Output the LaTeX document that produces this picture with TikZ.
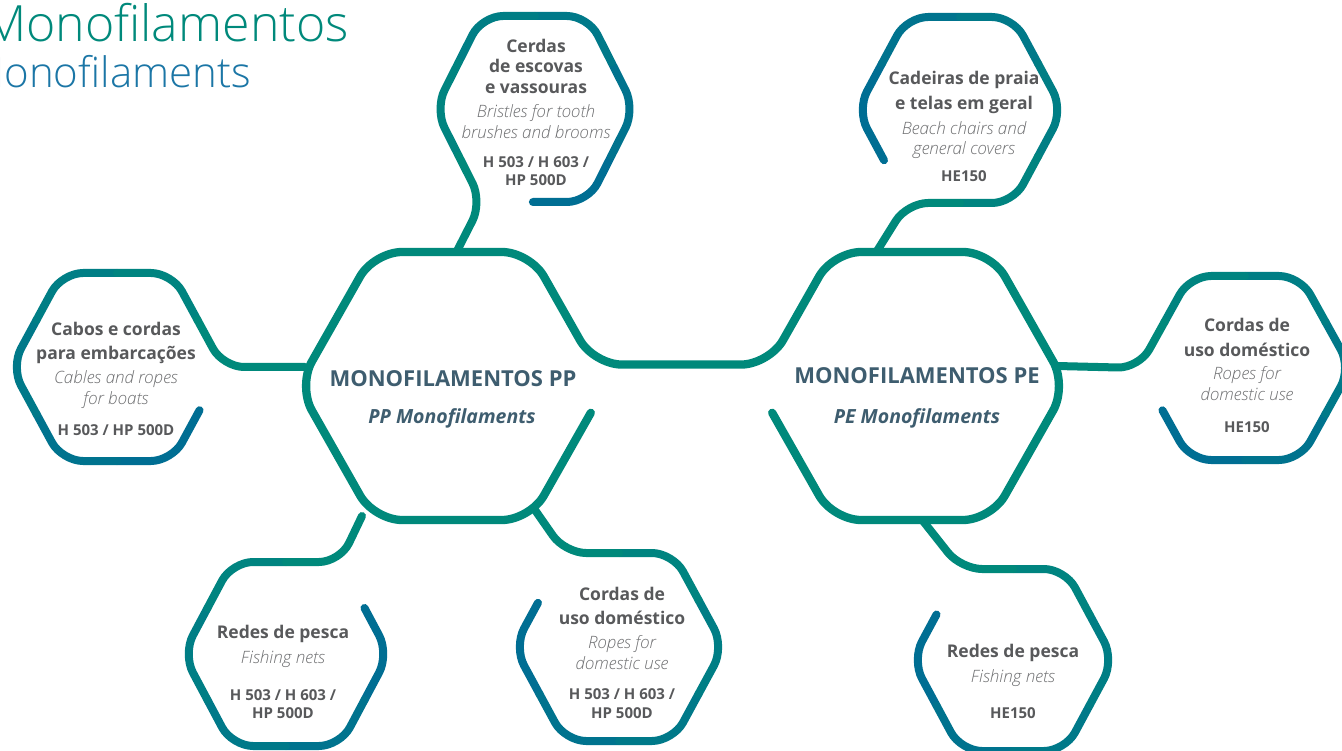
\documentclass[tikz,border=0pt]{standalone}
\usepackage{fontspec}
\setmainfont{Open Sans}
\newfontfamily\lightf{Open Sans Light}[ItalicFont={Open Sans Light Italic}]
\usetikzlibrary{calc}
\definecolor{hteal}{HTML}{00897B}
\definecolor{hblue}{HTML}{006E93}
\definecolor{tgrey}{HTML}{58595B}
\definecolor{tlight}{HTML}{6E6F71}
\definecolor{tdark}{HTML}{3E5D6F}
\definecolor{titleblue}{HTML}{1B76A6}
\newcommand\defhex[6]{%
  \coordinate (#1L) at (#2-#4,#3);
  \coordinate (#1TL) at (#2-#6,#3-#5);
  \coordinate (#1TR) at (#2+#6,#3-#5);
  \coordinate (#1R) at (#2+#4,#3);
  \coordinate (#1BR) at (#2+#6,#3+#5);
  \coordinate (#1BL) at (#2-#6,#3+#5);}
\newcommand\gradhex[1]{%
  \draw[hexline, draw=hblue] (#1p0) -- (#1p1) -- ($(#1p1)!0.5!(#1p2)$);
  \foreach \k/\pc in {2/20,3/40,4/60,5/80}{%
    \pgfmathtruncatemacro\km{\k-1}\pgfmathtruncatemacro\kp{\k+1}%
    \draw[hexline, draw=hteal!\pc!hblue] ($(#1p\km)!0.5!(#1p\k)$) -- (#1p\k) -- ($(#1p\k)!0.5!(#1p\kp)$);}
  \draw[hexline, draw=hteal] ($(#1p5)!0.5!(#1p6)$) -- (#1p6) -- (#1p7);}
\newcommand\seqpts[8]{%
  \coordinate (#1p1) at (#2); \coordinate (#1p2) at (#3); \coordinate (#1p3) at (#4);
  \coordinate (#1p4) at (#5); \coordinate (#1p5) at (#6); \coordinate (#1p6) at (#7);
  \coordinate (#1p7) at (#8);}
\begin{document}
\begin{tikzpicture}[x=1pt,y=-1pt,
  hexline/.style={line width=8pt, line cap=round, line join=round, rounded corners=21pt},
  bigline/.style={line width=8.3pt, draw=hteal, line cap=round, line join=round, rounded corners=28pt},
  bt/.style={anchor=base, inner sep=0pt, text=tgrey, font=\bfseries\fontsize{17.5}{20}\selectfont},
  it/.style={anchor=base, inner sep=0pt, text=tlight, font=\lightf\itshape\fontsize{17}{20}\selectfont},
  md/.style={anchor=base, inner sep=0pt, text=tgrey, font=\bfseries\fontsize{15}{17}\selectfont},
  bigt/.style={anchor=base, inner sep=0pt, text=tdark, font=\bfseries\fontsize{22}{25}\selectfont},
  bigi/.style={anchor=base, inner sep=0pt, text=tdark, font=\bfseries\itshape\fontsize{19.5}{22}\selectfont}]
\clip (0,0) rectangle (1342,751);
\fill[white] (0,0) rectangle (1342,751);

% ---- hexagon geometry
\defhex{pp}{452}{386}{154}{134}{78}
\defhex{pe}{912}{386}{155}{134}{79}
\defhex{ha}{535}{109}{100}{93}{53}
\defhex{hb}{117}{367}{106}{94}{55}
\defhex{hc}{286}{654}{103}{92}{54}
\defhex{hd}{619}{647}{105}{94}{54}
\defhex{he}{960}{110}{103}{93}{53}
\defhex{hf}{1245}{368}{106}{92}{55}
\defhex{hg}{1013}{660}{101}{91}{52}

% ---- big hexagons with their joining connector
\coordinate (ppfree) at ($(ppR)!0.2!(ppBR)$);
\coordinate (ppcorner) at ($(ppTR)!0.84!(ppR)$);
\coordinate (pecorner) at ($(peTL)!0.84!(peL)$);
\coordinate (pefree) at ($(peL)!0.2!(peBL)$);
\draw[bigline] (ppfree) -- (ppBR) -- (ppBL) -- (ppL) -- (ppTL) -- (ppTR) -- (ppcorner)
  -- (pecorner) -- (peTL) -- (peTR) -- (peR) -- (peBR) -- (peBL) -- (pefree);

% ---- small hexagons: free end -> ... -> connector end on a big hexagon
\coordinate (hap0) at ($(haBL)!0.48!(haBR)$);
\seqpts{ha}{haBR}{haR}{haTR}{haTL}{haL}{haBL}{457,251}
\coordinate (hbp0) at ($(hbR)!0.46!(hbBR)$);
\seqpts{hb}{hbBR}{hbBL}{hbL}{hbTL}{hbTR}{hbR}{305,367}
\coordinate (hcp0) at ($(hcTR)!0.5!(hcR)$);
\seqpts{hc}{hcR}{hcBR}{hcBL}{hcL}{hcTL}{hcTR}{362,516}
\coordinate (hdp0) at ($(hdTL)!0.53!(hdL)$);
\seqpts{hd}{hdL}{hdBL}{hdBR}{hdR}{hdTR}{hdTL}{535,510}
\coordinate (hep0) at ($(heL)!0.54!(heBL)$);
\seqpts{he}{heL}{heTL}{heTR}{heR}{heBR}{heBL}{877,251}
\coordinate (hfp0) at ($(hfL)!0.46!(hfBL)$);
\seqpts{hf}{hfBL}{hfBR}{hfR}{hfTR}{hfTL}{hfL}{1057,366}
\coordinate (hgp0) at ($(hgTL)!0.5!(hgL)$);
\seqpts{hg}{hgL}{hgBL}{hgBR}{hgR}{hgTR}{hgTL}{923,521}
\gradhex{ha}\gradhex{hb}\gradhex{hc}\gradhex{hd}\gradhex{he}\gradhex{hf}\gradhex{hg}

% ---- title
\node[anchor=base east, inner sep=0pt, text=hteal, font=\lightf\fontsize{50}{55}\selectfont] (title1) at (349,42) {Monofilamentos};
\node[anchor=base east, inner sep=0pt, text=titleblue, font=\lightf\fontsize{42}{46}\selectfont] (title2) at (251,88) {Monofilaments};

% ---- big texts
\node[bigt] (ppt) at (453,387) {MONOFILAMENTOS PP};
\node[bigi] (ppe) at (452,423) {PP Monofilaments};
\node[bigt] (pet) at (917,384) {MONOFILAMENTOS PE};
\node[bigi] (pee) at (917,423) {PE Monofilaments};

% ---- hexagon A
\node[bt] (a1) at (536,53) {Cerdas};
\node[bt] (a2) at (536,73) {de escovas};
\node[bt] (a3) at (536,93.5) {e vassouras};
\node[it] (a4) at (536,118) {Bristles for tooth};
\node[it] (a5) at (536,138.5) {brushes and brooms};
\node[md] (a6) at (536,167.5) {H 503 / H 603 /};
\node[md] (a7) at (536,186) {HP 500D};
% ---- hexagon B
\node[bt] (b1) at (116,336) {Cabos e cordas};
\node[bt] (b2) at (116,360) {para embarcações};
\node[it] (b3) at (116,384) {Cables and ropes};
\node[it] (b4) at (116,404) {for boats};
\node[md] (b5) at (116,435.5) {H 503 / HP 500D};
% ---- hexagon C
\node[bt] (c1) at (283,638.5) {Redes de pesca};
\node[it] (c2) at (283,663) {Fishing nets};
\node[md] (c3) at (283,700.5) {H 503 / H 603 /};
\node[md] (c4) at (283,718.5) {HP 500D};
% ---- hexagon D
\node[bt] (d1) at (622,600.5) {Cordas de};
\node[bt] (d2) at (622,624.5) {uso doméstico};
\node[it] (d3) at (622,648) {Ropes for};
\node[it] (d4) at (622,669) {domestic use};
\node[md] (d5) at (622,699.5) {H 503 / H 603 /};
\node[md] (d6) at (622,718) {HP 500D};
% ---- hexagon E
\node[bt] (e1) at (964,85) {Cadeiras de praia};
\node[bt] (e2) at (964,110) {e telas em geral};
\node[it] (e3) at (964,135) {Beach chairs and};
\node[it] (e4) at (964,155) {general covers};
\node[md] (e5) at (964,182) {HE150};
% ---- hexagon F
\node[bt] (f1) at (1247,332) {Cordas de};
\node[bt] (f2) at (1247,356) {uso doméstico};
\node[it] (f3) at (1247,380) {Ropes for};
\node[it] (f4) at (1247,400) {domestic use};
\node[md] (f5) at (1247,432) {HE150};
% ---- hexagon G
\node[bt] (g1) at (1013,657) {Redes de pesca};
\node[it] (g2) at (1013,682) {Fishing nets};
\node[md] (g3) at (1013,718) {HE150};
\end{tikzpicture}
\end{document}
